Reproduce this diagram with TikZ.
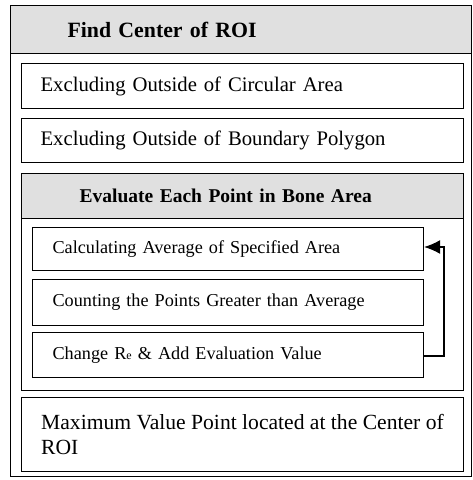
\documentclass[tikz,border=0pt]{standalone}
\usepackage{fontspec}
\setmainfont{Liberation Serif}
\usetikzlibrary{arrows.meta}
\begin{document}
\begin{tikzpicture}[x=1pt,y=-1pt,
  frame/.style={draw=black,line width=1.2pt,anchor=north west,inner ysep=0pt,
    align=left,font=\fontsize{20.7}{25}\selectfont},
  shade/.style={fill=gray!24},
  sub/.style={font=\fontsize{18.2}{22}\selectfont},
  loop/.style={line width=1.2pt,-{Latex[length=16pt,width=14pt]}}]
\useasboundingbox (0,0) rectangle (473,480);

% outer frame and its title band
\node[frame,minimum width=461pt,minimum height=471pt] (outer) at (10,5) {};
\node[frame,shade,font=\fontsize{21.8}{26}\bfseries\selectfont,minimum width=461pt,minimum height=48pt,
  inner xsep=57pt,text width=347pt] (title) at (10,5) {Find Center of ROI};

% first two steps
\node[frame,minimum width=442pt,minimum height=45pt,
  inner xsep=19pt,text width=404pt] (circ) at (21,63) {Excluding Outside of Circular Area};
\node[frame,minimum width=442pt,minimum height=44pt,
  inner xsep=19pt,text width=404pt] (poly) at (21,118) {Excluding Outside of Boundary Polygon};

% evaluation block
\node[frame,shade,font=\fontsize{19.5}{24}\bfseries\selectfont,minimum width=442pt,minimum height=45pt,
  inner xsep=58pt,text width=326pt] (evalhdr) at (21,173) {Evaluate Each Point in Bone Area};
\node[frame,minimum width=442pt,minimum height=172pt] (evalbody) at (21,218) {};

\node[frame,sub,minimum width=391pt,minimum height=43pt,
  inner xsep=20pt,text width=351pt] (avg) at (32,227) {Calculating Average of Specified Area};
\node[frame,sub,minimum width=391pt,minimum height=46pt,
  inner xsep=20pt,text width=351pt] (count) at (32,279) {Counting the Points Greater than Average};
\node[frame,sub,minimum width=391pt,minimum height=45pt,
  inner xsep=20pt,text width=351pt] (change) at (32,332)
  {Change R\raisebox{-0.5pt}{\fontsize{12}{13}\selectfont e} \& Add Evaluation Value};

% feedback loop
\coordinate (turnlow) at (444,356);
\coordinate (turnhigh) at (444,247);
\draw[loop] (change.east |- turnlow) -- (turnlow) -- (turnhigh) -- (avg.east |- turnhigh);

% result
\node[frame,minimum width=442pt,minimum height=74pt] (result) at (21,397) {};
\node[anchor=west,inner sep=0pt,align=left,font=\fontsize{21.6}{25}\selectfont]
  (resulttext) at ([xshift=20pt]result.west)
  {Maximum Value Point located at the Center of\\ROI};
\end{tikzpicture}
\end{document}
